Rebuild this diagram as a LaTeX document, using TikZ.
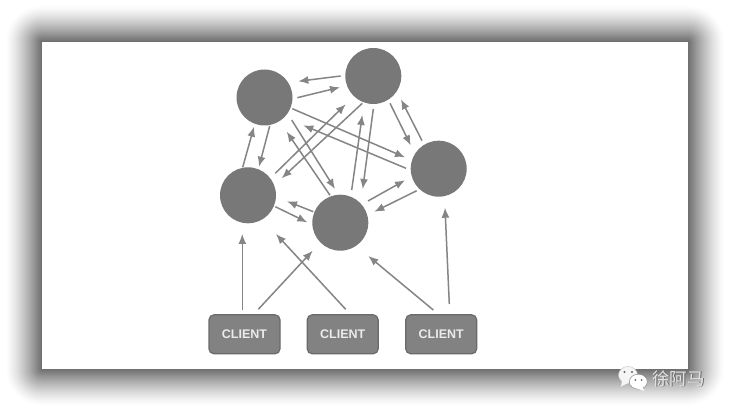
\documentclass[tikz,border=0pt]{standalone}
\usepackage{fontspec}
\setmainfont{Liberation Sans}
\newfontfamily\cjkfont{Noto Sans CJK SC}
\usetikzlibrary{arrows.meta,calc}
\definecolor{nodegray}{HTML}{787878}
\definecolor{boxgray}{HTML}{828282}
\definecolor{boxedge}{HTML}{6A6A6A}
\definecolor{arrowgray}{HTML}{858585}
\tikzset{
  peer/.style={circle,fill=nodegray,draw=none,minimum size=56pt,inner sep=0pt,outer sep=0pt},
  clientbox/.style={rectangle,rounded corners=5pt,fill=boxgray,draw=boxedge,line width=1.2pt,
    minimum width=71pt,minimum height=39pt,inner sep=0pt,outer sep=0pt,
    text=white!92!black,font=\fontsize{12.5}{14}\selectfont\bfseries},
  link/.style={draw=arrowgray,line width=1.5pt,-{Latex[length=10pt,width=8pt]}},
}
\newcommand{\conn}[4]{\draw[link] ([shift={(#2)}]#1.center) -- ([shift={(#4)}]#3.center);}
\begin{document}
\begin{tikzpicture}[x=1pt,y=-1pt]
\useasboundingbox (0,0) rectangle (730,411);
\fill[white] (0,0) rectangle (730,411);
% soft drop shadow, outermost band first
\foreach \i in {36,35,...,0}{
  \pgfmathsetmacro{\p}{58*pow(1-\i/37,1.35)}
  \fill[black!\p!white,rounded corners=\i pt] ({42-\i},{42-\i}) rectangle ({688+\i},{369+\i});
}
\fill[white] (42,42) rectangle (688,369);

\node[peer] (n1) at (264.5,97.5) {};
\node[peer] (n2) at (373.3,76) {};
\node[peer] (n3) at (438.7,168.7) {};
\node[peer] (n4) at (248,195.3) {};
\node[peer] (n5) at (340.3,222.7) {};
\node[clientbox] (b1) at (244.5,334.3) {CLIENT};
\node[clientbox] (b2) at (342.7,334.3) {CLIENT};
\node[clientbox] (b3) at (441.2,334.3) {CLIENT};

\conn{n2}{-32.6,0}{n1}{33.8,-16.2}
\conn{n1}{32.8,0.2}{n2}{-33.3,11.3}
\conn{n1}{27.8,11.2}{n3}{-33.7,-11.4}
\conn{n3}{-32.7,-0.4}{n1}{38.8,27.8}
\conn{n1}{27.2,22.5}{n5}{-5.3,-33.7}
\conn{n5}{-10.3,-27.4}{n1}{22.2,34.2}
\conn{n4}{-5.3,-28}{n1}{-10.5,29.2}
\conn{n1}{5.2,28.5}{n4}{11,-28.6}
\conn{n4}{27.3,-22}{n2}{-27.6,28.3}
\conn{n2}{-11,27.3}{n4}{33.7,-17}
\conn{n5}{11.4,-32.7}{n2}{-11,39}
\conn{n2}{0,33}{n5}{22.4,-33.7}
\conn{n2}{16.7,27.3}{n3}{-28,-23.4}
\conn{n3}{-16.7,-28}{n2}{27.7,23.3}
\conn{n5}{27.7,-21.7}{n3}{-33.7,11.6}
\conn{n3}{-22,22}{n5}{34,-11}
\conn{n5}{-27,-11}{n4}{39,6}
\conn{n4}{27.3,11.4}{n5}{-33,-0.4}
\conn{b1}{-2.2,-24.3}{n4}{-5.7,38.7}
\conn{b1}{13.8,-25}{n5}{-27.6,28}
\conn{b2}{3,-25}{n4}{28,38.7}
\conn{b3}{-7.9,-24.3}{n5}{28,33.3}
\conn{b3}{8.1,-30.3}{n3}{6.3,39}

% watermark
\fill[white!96!black,draw=black!25,line width=.4pt] (628,375) ellipse [x radius=9.5,y radius=8.5];
\fill[white!96!black] (622,381) -- (621,386.5) -- (628,383) -- cycle;
\fill[white,draw=black!45,line width=.5pt] (638.3,381.7) ellipse [x radius=9,y radius=7.5];
\fill[white] (642,387) -- (644.5,391) -- (637,388.5) -- cycle;
\fill[black!60] (624.5,372) circle (1.1) (632,372) circle (1.1) (635.3,380) circle (1) (641.5,380) circle (1);
\node[inner sep=0pt,text=black!60,font=\cjkfont\fontsize{17.5}{20}\selectfont] (wm0) at (679.3,379.3) {徐阿马};
\node[inner sep=0pt,text=white!90!black,font=\cjkfont\fontsize{17.5}{20}\selectfont] (wm) at (678.6,378.6) {徐阿马};
\end{tikzpicture}
\end{document}
